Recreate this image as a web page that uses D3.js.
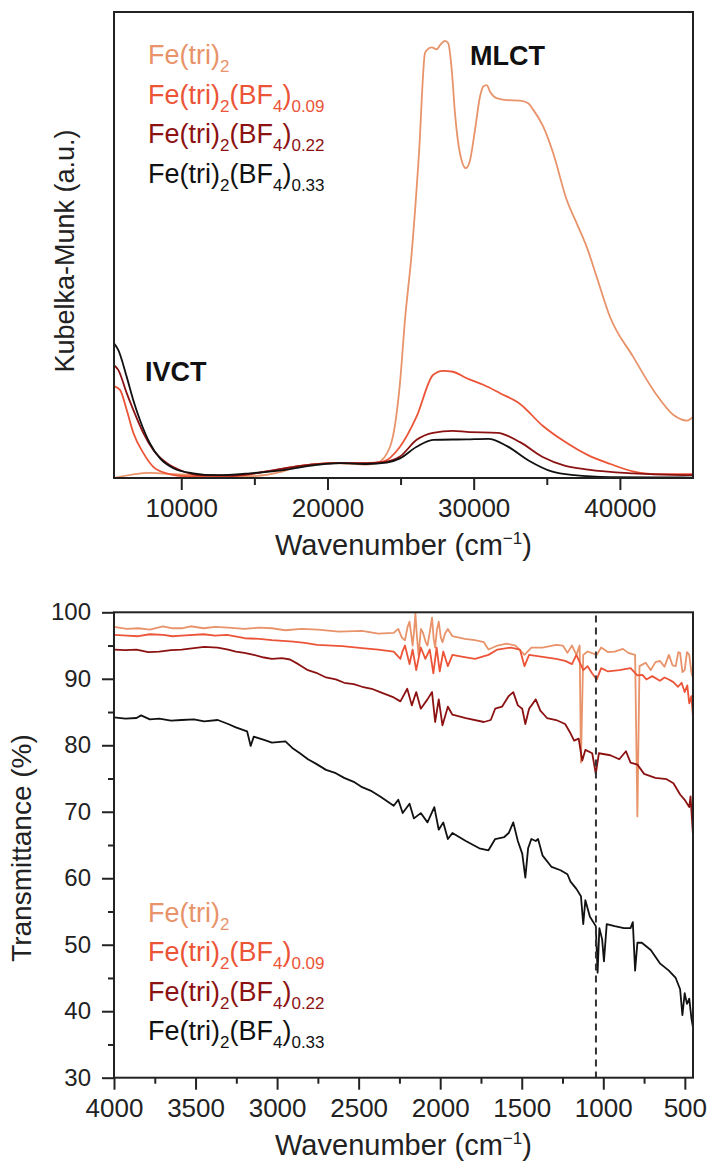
<!DOCTYPE html>
<html>
<head>
<meta charset="utf-8">
<script src="https://cdn.jsdelivr.net/npm/d3@7"></script>
<style>
  body { margin: 0; background: #fff; }
  text { font-family: 'Liberation Sans', Arial, Helvetica, sans-serif; }
</style>
</head>
<body>
<script>
// ---- data: top panel, Kubelka-Munk (a.u.) vs wavenumber (cm-1)
var kmFeTri2 = [[5400,0.000],[7860,0.011],[9500,0.008],[11280,0.006],[14700,0.004],[16960,0.014],[18120,0.026],[20380,0.032],
  [22700,0.029],[23390,0.032],[24280,0.067],[24960,0.204],[25300,0.339],[25760,0.483],[26260,0.697],[26670,0.912],
  [26790,0.918],[27130,0.924],[27470,0.920],[27700,0.929],[28040,0.938],[28260,0.933],[28500,0.876],[28720,0.783],
  [29060,0.697],[29470,0.665],[29750,0.682],[30090,0.747],[30430,0.818],[30660,0.840],[30890,0.843],[31120,0.829],
  [31570,0.815],[32260,0.811],[33170,0.810],[33730,0.804],[34080,0.790],[34760,0.754],[35440,0.697],[36360,0.597],
  [37040,0.547],[37730,0.496],[38410,0.432],[39320,0.346],[40890,0.261],[42430,0.182],[43670,0.135],[44590,0.123],[45000,0.131]];
var kmBF009 = [[5400,0.197],[5810,0.189],[6270,0.146],[6720,0.097],[7400,0.054],[8090,0.024],[9000,0.010],[10140,0.004],
  [11280,0.003],[13540,0.004],[15840,0.014],[18120,0.026],[20380,0.032],[22680,0.032],[23800,0.035],[24960,0.067],
  [26100,0.132],[27220,0.221],[27900,0.230],[28580,0.228],[29520,0.214],[30660,0.200],[31800,0.182],[33170,0.159],
  [34720,0.112],[36270,0.077],[37820,0.049],[39350,0.030],[40890,0.014],[42430,0.008],[45000,0.008]];
var kmBF022 = [[5400,0.242],[5690,0.232],[6270,0.182],[6720,0.146],[7400,0.097],[8090,0.060],[9000,0.032],[10140,0.014],
  [11280,0.006],[13540,0.005],[15840,0.014],[18120,0.026],[20380,0.032],[22680,0.032],[23800,0.034],[24960,0.046],
  [26100,0.082],[27220,0.097],[28580,0.101],[29520,0.099],[31630,0.097],[33170,0.077],[34720,0.045],[36270,0.026],
  [37820,0.018],[40890,0.010],[45000,0.006]];
var kmBF033 = [[5400,0.289],[5690,0.275],[6270,0.217],[6720,0.167],[7180,0.124],[7860,0.074],[8550,0.042],[9460,0.021],
  [10820,0.010],[12420,0.006],[14700,0.010],[16980,0.017],[19260,0.028],[20860,0.032],[22680,0.030],[24050,0.033],
  [24960,0.042],[26100,0.067],[27220,0.082],[29520,0.083],[31010,0.084],[32250,0.069],[33780,0.037],[35330,0.014],
  [36880,0.006],[39320,0.002],[45000,0.001]];

// ---- data: bottom panel, transmittance (%) vs wavenumber (cm-1)
var trFeTri2 = [[4000,97.8],[3920,97.5],[3850,97.6],[3780,97.4],[3700,97.9],[3640,97.6],[3585,97.6],[3530,97.9],[3450,97.6],
  [3380,97.8],[3300,97.7],[3200,97.5],[3110,97.7],[3032,97.6],[2950,97.3],[2850,97.5],[2750,97.4],[2620,97.1],[2479,97.2],
  [2380,96.8],[2285,96.9],[2257,97.5],[2235,96.2],[2216,95.8],[2200,97.8],[2188,98.6],[2169,95.0],[2160,97.2],[2152,99.8],
  [2143,96.5],[2133,93.6],[2118,97.5],[2105,96.9],[2090,95.6],[2078,95.0],[2064,97.0],[2050,99.2],[2040,96.0],[2031,94.7],
  [2020,97.4],[2009,98.6],[1996,96.2],[1986,95.5],[1970,96.8],[1953,97.5],[1925,96.4],[1850,96.0],[1787,95.8],[1732,95.5],
  [1704,94.4],[1649,95.0],[1594,95.3],[1538,95.0],[1483,93.6],[1441,94.7],[1372,94.7],[1289,95.1],[1248,95.0],[1220,93.9],
  [1192,95.0],[1165,93.6],[1145,95.0],[1137,77.4],[1123,93.6],[1096,94.1],[1040,93.6],[1013,94.7],[970,94.0],[930,94.1],
  [880,94.5],[847,93.9],[805,93.6],[791,69.3],[778,91.9],[740,92.4],[709,91.3],[680,92.5],[653,92.7],[625,91.8],[598,93.6],
  [575,92.0],[556,91.9],[540,94.0],[529,93.9],[515,91.0],[501,91.3],[487,94.0],[473,93.6],[460,91.0],[451,90.2]];
var trBF009 = [[4000,96.6],[3920,96.5],[3850,96.4],[3780,96.7],[3700,96.6],[3640,96.4],[3585,96.5],[3450,96.7],[3380,96.5],
  [3308,96.6],[3198,96.1],[3110,96.0],[3032,95.8],[2900,95.6],[2830,95.4],[2755,95.1],[2600,94.9],[2479,94.6],[2380,94.4],
  [2285,94.1],[2244,93.0],[2230,94.2],[2216,95.0],[2188,92.2],[2169,94.4],[2147,91.3],[2119,94.7],[2091,93.0],[2064,94.4],
  [2042,90.8],[2022,94.7],[2003,91.1],[1981,94.1],[1953,91.9],[1925,93.6],[1860,93.3],[1787,93.0],[1704,93.6],[1649,94.4],
  [1566,94.7],[1511,94.4],[1483,91.9],[1455,93.6],[1372,93.3],[1289,93.0],[1234,92.7],[1192,92.2],[1165,93.6],[1123,91.3],
  [1096,91.9],[1068,90.8],[1040,89.9],[1013,91.6],[971,91.1],[902,91.3],[833,91.6],[791,90.5],[760,90.6],[736,89.9],
  [700,90.4],[653,89.7],[625,90.2],[598,89.9],[570,89.5],[542,88.8],[520,89.4],[501,88.0],[485,89.0],[473,86.3],[460,87.4],
  [451,84.6]];
var trBF022 = [[4000,94.4],[3930,94.3],[3862,94.4],[3790,94.0],[3723,94.1],[3650,94.3],[3585,94.4],[3510,94.6],[3447,94.8],
  [3364,94.7],[3300,94.4],[3253,94.1],[3200,93.9],[3143,93.6],[3080,93.2],[3032,93.0],[2970,93.1],[2921,92.9],[2870,92.2],
  [2811,91.3],[2760,90.9],[2700,90.2],[2640,89.9],[2589,89.4],[2530,89.2],[2479,88.8],[2420,88.5],[2368,88.0],[2285,87.2],
  [2244,86.6],[2202,88.5],[2174,86.0],[2147,88.0],[2119,85.5],[2078,86.9],[2050,88.0],[2031,83.5],[2009,86.9],[1986,83.0],
  [1953,85.8],[1925,84.6],[1843,84.1],[1732,83.5],[1690,83.8],[1663,85.5],[1621,85.8],[1580,87.4],[1552,88.0],[1524,86.0],
  [1497,85.5],[1478,83.2],[1455,85.5],[1414,86.9],[1386,85.2],[1345,84.1],[1289,83.8],[1234,83.2],[1201,81.8],[1179,80.7],
  [1151,81.0],[1129,77.7],[1110,79.3],[1068,78.8],[1046,75.7],[1027,78.8],[957,78.5],[902,77.9],[861,79.1],[833,77.4],
  [791,77.1],[750,75.7],[681,75.1],[612,74.9],[570,74.3],[529,72.6],[501,71.8],[473,70.7],[465,72.3],[451,66.8]];
var trBF033 = [[4000,84.2],[3930,84.0],[3862,84.1],[3834,84.5],[3780,83.9],[3723,84.0],[3650,83.7],[3585,83.8],[3510,83.9],
  [3447,83.6],[3364,83.8],[3300,83.2],[3253,82.7],[3184,82.1],[3162,79.9],[3143,81.3],[3080,80.8],[3032,80.4],[2949,80.6],
  [2907,79.6],[2860,78.8],[2811,77.9],[2760,77.2],[2700,76.3],[2640,75.8],[2589,75.1],[2530,74.5],[2479,73.7],[2420,73.1],
  [2368,72.3],[2285,70.9],[2257,71.8],[2230,69.8],[2188,71.2],[2161,69.0],[2119,69.8],[2078,68.4],[2036,70.7],[2009,67.3],
  [1981,68.4],[1953,65.9],[1925,66.8],[1843,65.6],[1760,64.5],[1704,64.2],[1663,65.9],[1607,66.2],[1580,66.8],[1552,68.4],
  [1524,65.6],[1497,63.7],[1478,60.1],[1461,64.5],[1441,65.9],[1414,65.6],[1400,65.9],[1372,63.4],[1317,61.7],[1262,61.2],
  [1220,60.6],[1201,59.5],[1165,58.4],[1137,57.3],[1123,53.1],[1110,56.7],[1082,54.2],[1046,52.8],[1035,45.8],[1024,52.5],
  [1007,50.8],[996,47.5],[979,53.1],[930,52.8],[874,52.5],[833,52.5],[819,53.4],[805,46.1],[791,50.3],[764,50.3],[709,49.2],
  [653,47.2],[598,46.1],[556,45.0],[529,43.3],[515,39.4],[501,42.7],[487,41.1],[473,41.9],[459,38.8],[451,37.7]];

var topSeries = [kmFeTri2, kmBF009, kmBF022, kmBF033];
var bottomSeries = [trFeTri2, trBF009, trBF022, trBF033];

// legend labels: [text, isSubscript]
var legendLabels = [
  [['Fe(tri)', 0], ['2', 1]],
  [['Fe(tri)', 0], ['2', 1], ['(BF', 0], ['4', 1], [')', 0], ['0.09', 1]],
  [['Fe(tri)', 0], ['2', 1], ['(BF', 0], ['4', 1], [')', 0], ['0.22', 1]],
  [['Fe(tri)', 0], ['2', 1], ['(BF', 0], ['4', 1], [')', 0], ['0.33', 1]]
];
var topTicks = [10000, 20000, 30000, 40000];
var topMinorTicks = [15000, 25000, 35000];
var bottomXTicks = [4000, 3500, 3000, 2500, 2000, 1500, 1000, 500];
var bottomXMinor = [3750, 3250, 2750, 2250, 1750, 1250, 750];
var bottomYTicks = [30, 40, 50, 60, 70, 80, 90, 100];
var bottomYMinor = [35, 45, 55, 65, 75, 85, 95];
var markerWavenumber = 1045;

var colors = ['#E8936A', '#EC5438', '#8C1212', '#111111'];

var svg = d3.select('body').append('svg')
  .attr('width', 710)
  .attr('height', 1163);

svg.append('rect').attr('width', 710).attr('height', 1163).attr('fill', '#fff');

function drawLabel(sel, parts, bigSize, smallSize) {
  var shift = 0;
  parts.forEach(function (p) {
    var want = p[1] ? 8 : 0;
    sel.append('tspan')
      .attr('dy', want - shift)
      .attr('font-size', p[1] ? smallSize : bigSize)
      .text(p[0]);
    shift = want;
  });
}

function axisStyle(g) {
  g.select('.domain').remove();
  g.selectAll('line').attr('stroke', '#222').attr('stroke-width', 2);
  g.selectAll('text').attr('fill', '#222').attr('font-family', "'Liberation Sans', Arial, sans-serif");
}

// ================= top panel =================
var topX = d3.scaleLinear().domain([5400, 45000]).range([114, 693]);
var topY = d3.scaleLinear().domain([0, 1]).range([478, 12]);

svg.append('g').attr('transform', 'translate(0,478)')
  .call(d3.axisBottom(topX).tickValues(topTicks).tickSize(12).tickPadding(9).tickFormat(d3.format('d')))
  .call(axisStyle)
  .selectAll('text').attr('font-size', 26);
svg.append('g').attr('transform', 'translate(0,478)')
  .call(d3.axisBottom(topX).tickValues(topMinorTicks).tickSize(7).tickFormat(''))
  .call(axisStyle);

var topLine = d3.line()
  .x(d => topX(d[0]))
  .y(d => topY(d[1]))
  .curve(d3.curveMonotoneX);

topSeries.forEach(function (s, i) {
  svg.append('path')
    .attr('d', topLine(s))
    .attr('fill', 'none')
    .attr('stroke', colors[i])
    .attr('stroke-width', 1.8);
});

svg.append('rect')
  .attr('x', 114).attr('y', 12).attr('width', 579).attr('height', 466)
  .attr('fill', 'none').attr('stroke', '#222').attr('stroke-width', 2);

legendLabels.forEach(function (lab, i) {
  var t = svg.append('text')
    .attr('x', 148)
    .attr('y', 64 + i * 39.5)
    .attr('fill', colors[i]);
  drawLabel(t, lab, 27, 17);
});

svg.append('text').attr('x', 470).attr('y', 65)
  .attr('font-size', 27).attr('font-weight', 'bold').attr('fill', '#111').text('MLCT');
svg.append('text').attr('x', 145).attr('y', 381)
  .attr('font-size', 27).attr('font-weight', 'bold').attr('fill', '#111').text('IVCT');

svg.append('text')
  .attr('transform', 'translate(74,251) rotate(-90)')
  .attr('text-anchor', 'middle')
  .attr('font-size', 27)
  .attr('fill', '#222')
  .text('Kubelka-Munk (a.u.)');

function xTitle(y) {
  var t = svg.append('text')
    .attr('x', 403.5).attr('y', y)
    .attr('text-anchor', 'middle')
    .attr('font-size', 29)
    .attr('fill', '#222');
  t.append('tspan').text('Wavenumber (cm');
  t.append('tspan').attr('font-size', 17).attr('dy', -11).text('\u22121');
  t.append('tspan').attr('dy', 11).text(')');
}
xTitle(555);

// ================= bottom panel =================
var botX = d3.scaleLinear().domain([4000, 450]).range([114, 693]);
var botY = d3.scaleLinear().domain([30, 100]).range([1077.7, 612.3]);

svg.append('g').attr('transform', 'translate(0,1077.7)')
  .call(d3.axisBottom(botX).tickValues(bottomXTicks).tickSize(12).tickPadding(9).tickFormat(d3.format('d')))
  .call(axisStyle)
  .selectAll('text').attr('font-size', 26);
svg.append('g').attr('transform', 'translate(0,1077.7)')
  .call(d3.axisBottom(botX).tickValues(bottomXMinor).tickSize(6).tickFormat(''))
  .call(axisStyle);
svg.append('g').attr('transform', 'translate(114,0)')
  .call(d3.axisLeft(botY).tickValues(bottomYTicks).tickSize(12).tickPadding(11).tickFormat(d3.format('d')))
  .call(axisStyle)
  .selectAll('text').attr('font-size', 24);
svg.append('g').attr('transform', 'translate(114,0)')
  .call(d3.axisLeft(botY).tickValues(bottomYMinor).tickSize(6).tickFormat(''))
  .call(axisStyle);

var botLine = d3.line()
  .x(d => botX(d[0]))
  .y(d => botY(d[1]));

bottomSeries.forEach(function (s, i) {
  svg.append('path')
    .attr('d', botLine(s))
    .attr('fill', 'none')
    .attr('stroke', colors[i])
    .attr('stroke-width', 1.8)
    .attr('stroke-linejoin', 'round');
});

svg.append('line')
  .attr('x1', botX(markerWavenumber)).attr('x2', botX(markerWavenumber))
  .attr('y1', botY(99.5)).attr('y2', botY(30))
  .attr('stroke', '#333').attr('stroke-width', 2)
  .attr('stroke-dasharray', '7,5');

svg.append('rect')
  .attr('x', 114).attr('y', 612.3).attr('width', 579).attr('height', 465.4)
  .attr('fill', 'none').attr('stroke', '#222').attr('stroke-width', 2);

legendLabels.forEach(function (lab, i) {
  var t = svg.append('text')
    .attr('x', 148)
    .attr('y', 922 + i * 39.3)
    .attr('fill', colors[i]);
  drawLabel(t, lab, 27, 17);
});

svg.append('text')
  .attr('transform', 'translate(31,848) rotate(-90)')
  .attr('text-anchor', 'middle')
  .attr('font-size', 28)
  .attr('fill', '#222')
  .text('Transmittance (%)');

xTitle(1155);
</script>
</body>
</html>
